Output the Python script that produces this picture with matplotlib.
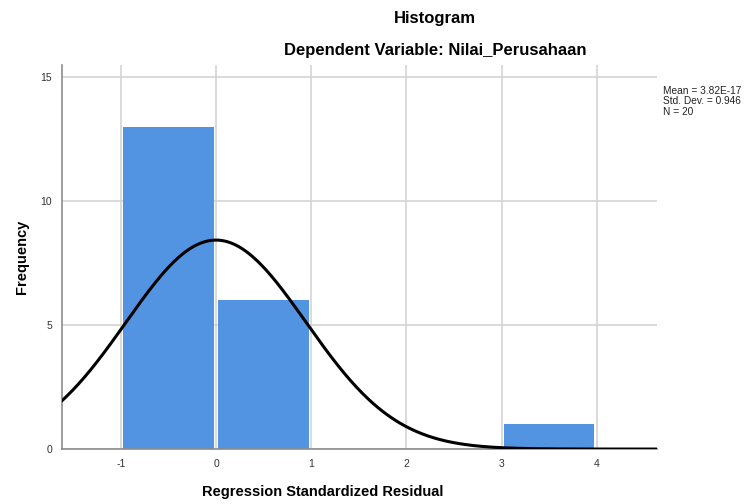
import numpy as np
import matplotlib
matplotlib.use('Agg')
import matplotlib.pyplot as plt

# histogram data (SPSS regression residuals)
bin_left = [-1, 0, 1, 2, 3]
counts = [13, 6, 0, 0, 1]
mean = 3.82e-17
std = 0.946
n = 20
stats_text = 'Mean = 3.82E-17\nStd. Dev. = 0.946\nN = 20'
xticks = [-1, 0, 1, 2, 3, 4]
yticks = [0, 5, 10, 15]

plt.rcParams['font.family'] = ['Liberation Sans', 'DejaVu Sans']

fig = plt.figure(figsize=(7.54, 5.04), dpi=100)
ax = fig.add_axes([0.082, 0.109, 0.789, 0.762])

# bars, slightly narrower than the bin so the grid shows between them
centers = [b + 0.5 for b in bin_left]
ax.bar(centers, counts, width=0.95, color='#5294e2', zorder=2)

# normal curve scaled to counts (bin width 1)
xs = np.linspace(-1.62, 4.63, 400)
ys = n * 1.0 / (std * np.sqrt(2 * np.pi)) * np.exp(-0.5 * ((xs - mean) / std) ** 2)
ax.plot(xs, ys, color='black', linewidth=2.2, zorder=3)

ax.set_xlim(-1.62, 4.63)
ax.set_ylim(0, 15.5)
ax.set_xticks(xticks)
ax.set_xticklabels([str(t) for t in xticks])
ax.set_yticks(yticks)
ax.grid(True, color='#d4d4d4', linewidth=1.2, zorder=0)
ax.set_axisbelow(True)

for s in ['top', 'right']:
    ax.spines[s].set_visible(False)
for s in ['left', 'bottom']:
    ax.spines[s].set_color('#8c8c8c')
    ax.spines[s].set_linewidth(1.2)
ax.tick_params(axis='both', length=0, labelsize=7.5, colors='#333333', pad=7)

fig.text(0.577, 0.963, 'Histogram', ha='center', va='center', fontsize=12, fontweight='bold')
fig.text(0.577, 0.899, 'Dependent Variable: Nilai_Perusahaan', ha='center', va='center',
         fontsize=12, fontweight='bold')
fig.text(0.029, 0.49, 'Frequency', rotation=90, ha='center', va='center',
         fontsize=10.5, fontweight='bold')
fig.text(0.428, 0.024, 'Regression Standardized Residual', ha='center', va='center',
         fontsize=10.5, fontweight='bold')
fig.text(0.879, 0.83, stats_text, ha='left', va='top', fontsize=7.3,
         color='#222222', linespacing=1.1)

plt.savefig('out.png', dpi=100)
